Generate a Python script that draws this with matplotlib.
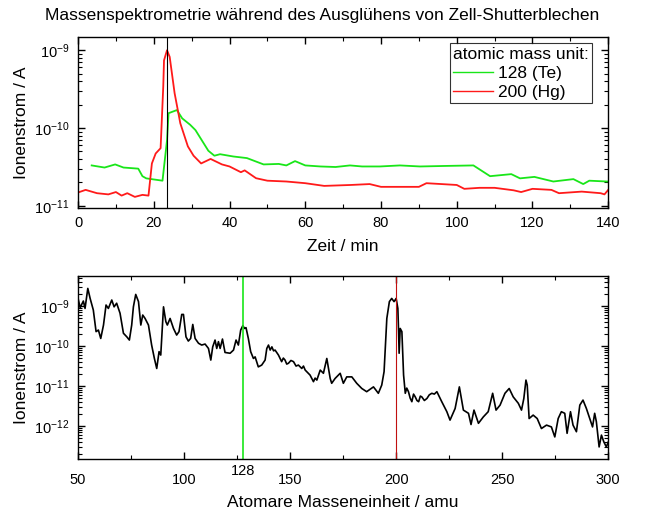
import numpy as np
import matplotlib
matplotlib.use("Agg")
import matplotlib.pyplot as plt
from matplotlib.ticker import LogLocator, MultipleLocator, NullFormatter
import matplotlib.transforms as mtransforms

plt.rcParams['font.family'] = ['Liberation Sans', 'DejaVu Sans']
plt.rcParams['mathtext.fontset'] = 'custom'
plt.rcParams['mathtext.rm'] = 'Liberation Sans'
plt.rcParams['mathtext.it'] = 'Liberation Sans:italic'
plt.rcParams['mathtext.bf'] = 'Liberation Sans:bold'

# Zeitverlauf (min) und Ionenstrom (A)
t_te = [3.6, 7, 9.8, 12, 15.9, 17, 18, 22.3, 23.5, 23.9, 26.1, 27.5, 29.6, 31,
        34.4, 36, 37.5, 41, 44.6, 49, 53, 55, 57.3, 60, 64, 68, 71.8, 75, 79.7, 85, 90.3,
        97, 104.4, 108.8, 114.4, 116.7, 120.5, 125.5, 130.8, 133.4, 135, 139.6, 140]
i_te = [3.3e-11, 3.1e-11, 3.4e-11, 3.1e-11, 3.0e-11, 2.4e-11, 2.25e-11, 2.1e-11,
        7.0e-11, 1.55e-10, 1.7e-10, 1.33e-10, 1.1e-10, 9.4e-11,
        5.1e-11, 4.4e-11, 4.6e-11, 4.3e-11, 4.1e-11, 3.4e-11, 3.45e-11, 3.3e-11,
        3.75e-11, 3.3e-11, 3.2e-11, 3.15e-11, 3.3e-11, 3.2e-11, 3.2e-11, 3.3e-11,
        3.2e-11, 3.25e-11, 3.3e-11, 2.4e-11, 2.55e-11, 2.25e-11, 2.35e-11,
        2.05e-11, 2.2e-11, 1.9e-11, 2.1e-11, 2.05e-11, 2.05e-11]

t_hg = [0, 2, 5, 8, 10, 11.5, 13, 15, 17, 18.6, 19.5, 20.5, 21.8, 22.5, 22.7,
        23.5, 24.2, 25.5, 27, 29, 30.5, 32.5, 35, 38, 40, 43, 44, 47, 50, 55,
        60, 65, 72, 77, 80, 90, 92, 100, 102, 106, 110, 115, 117, 120, 125,
        127, 133, 138, 139, 140]
i_hg = [1.48e-11, 1.6e-11, 1.45e-11, 1.4e-11, 1.5e-11, 1.35e-11, 1.45e-11,
        1.3e-11, 1.38e-11, 1.35e-11, 3.5e-11, 4.7e-11, 5.5e-11, 3.4e-10, 7.4e-10,
        1.0e-9, 8.2e-10, 2.8e-10, 1.15e-10, 5.8e-11, 4.4e-11, 3.5e-11, 4.0e-11,
        3.4e-11, 3.2e-11, 2.7e-11, 2.85e-11, 2.26e-11, 2.1e-11, 2.05e-11,
        1.95e-11, 1.8e-11, 1.85e-11, 1.9e-11, 1.75e-11, 1.75e-11, 1.95e-11,
        1.85e-11, 1.65e-11, 1.7e-11, 1.7e-11, 1.58e-11, 1.5e-11, 1.65e-11,
        1.6e-11, 1.45e-11, 1.52e-11, 1.45e-11, 1.4e-11, 1.6e-11]

# Massenspektrum (amu) und log10 des Ionenstroms
mass = [50, 51, 52.5, 53.3, 54.6, 55.7, 57.2, 58.5, 59.6, 60.7, 62, 63.2, 64.3,
        65.9, 67, 68.2, 69.8, 71.4, 73, 74.2, 75.3, 76.1, 77.2, 78.5, 79.6, 80.5,
        81.6, 83.2, 84.7, 86, 87.1, 88.2, 89, 90.3, 91.4, 92.1, 93.4, 95, 96.5,
        97.6, 98.9, 99.7, 100.9, 102, 103.1, 104.1, 105.2, 106.8, 108.3, 109.9,
        111.5, 112.6, 113.5, 114.6, 115.4, 116.2, 117, 118.1, 119.3, 121.7,
        123.3, 124.5, 125.6, 126.7, 127.7, 128.5, 129.2, 130.3, 131.4, 132.7,
        133.5, 135, 136.6, 138.2, 139, 139.8, 140.6, 141.4, 142.2, 142.9, 144.5,
        146, 146.8, 147.6, 148.4, 149.2, 150.4, 151.6, 152.8, 153.9, 155.5,
        156.3, 157.1, 158.2, 159.4, 161, 161.8, 162.6, 164.2, 165.7,
        167.3, 168.9, 169.6, 171.2, 173.6, 175.1, 176.7, 179.1, 181.4, 183.8,
        186.1, 189.3, 191.6, 193.2, 194.3, 195.6, 196.8, 197.9, 199, 200, 200.8,
        201.1, 201.4, 201.9, 202.7, 203.5, 204.3, 205, 205.8, 206.6, 207.4, 208.2,
        209, 209.8, 210.6, 211.4, 212.1, 213.3, 214.5, 215.6, 216.8, 218, 219.2,
        221.5, 223.9, 225.4, 227.8, 229.8, 231.7,
        234.1, 235.3, 236.7, 238.8, 241.1, 243.4, 245.5, 247.1, 249, 251.3,
        253.3, 255.2, 257.6, 259.1, 260.2, 261.2, 261.8, 262.7, 264.6, 266.5,
        268.5, 270.9, 273.2, 274.8, 276.4, 277.9, 279.5, 280.6, 282.2, 283.4,
        285, 286.6, 288.1, 289.7, 291.3, 292.6, 293.6, 294.4, 295.7, 296.8,
        297.9, 299.1, 300]
log_i = [-8.81, -9.04, -8.875, -9.06, -8.56, -8.81, -9.1, -9.64, -9.6, -9.81,
         -9.475, -8.975, -9.06, -8.85, -9.02, -8.93, -9.18, -9.68, -9.77, -9.85,
         -9.475, -9.02, -8.71, -8.89, -9.475, -9.225, -9.31, -9.475, -9.975,
         -10.31, -10.56, -10.14, -10.225, -9.02, -9.39, -9.475, -9.31, -9.56,
         -9.725, -9.64, -9.21, -9.21, -9.77, -9.875, -9.81, -9.46, -9.81, -9.93,
         -9.975, -9.95, -10.06, -10.35, -10.02, -9.85, -10.06, -9.89, -10.06,
         -9.825, -10.16, -10.18, -10.1, -9.85, -9.975, -9.6, -9.49, -9.56, -9.54,
         -9.81, -10.14, -10.31, -10.27, -10.52, -10.475, -10.35, -10.06, -9.975,
         -10.1, -10.02, -10.12, -10.1, -10.225, -10.39, -10.3, -10.35, -10.45,
         -10.43, -10.36, -10.39, -10.5, -10.475, -10.56, -10.5, -10.6, -10.66,
         -10.725, -10.89, -10.8, -10.85, -10.6, -10.68,
         -10.31, -10.81, -10.93, -10.81, -10.68, -10.93, -10.77, -10.77, -10.93,
         -11.06, -11.14, -11.02, -11.18, -10.975, -10.64, -9.31, -8.89, -8.81,
         -8.89, -8.81, -9.06, -9.56, -10.18, -9.56, -9.64, -10.725, -11.18,
         -11.05, -11.14, -11.3, -11.39, -11.2, -11.27, -11.36, -11.39, -11.25,
         -11.27, -11.36, -11.31, -11.22, -11.18, -11.2, -11.14,
         -11.39, -11.64, -11.85, -11.56,
         -11.02, -11.6, -11.68, -11.96, -11.6, -11.93, -11.77, -11.64, -11.18,
         -11.6, -11.475, -11.18, -11.06, -11.27, -11.43, -11.6, -11.31, -10.85,
         -10.975, -11.81, -11.725, -11.81, -12.06, -11.975, -12.02, -12.27,
         -11.81, -11.64, -11.68, -12.18, -11.64, -11.975, -12.14, -11.475,
         -11.35, -11.56, -11.81, -12.02, -11.68, -11.89, -12.52, -12.225, -12.39,
         -12.52, -12.4]

green = '#19e619'
red = '#ff1a1a'

fig = plt.figure(figsize=(6.45, 5.17), dpi=100)
ax1 = fig.add_axes([0.121, 0.598, 0.822, 0.330])
ax2 = fig.add_axes([0.121, 0.112, 0.822, 0.354])

# --- oben: Zeitverlauf
ax1.plot(t_te, i_te, color=green, lw=1.3, label='128 (Te)')
ax1.plot(t_hg, i_hg, color=red, lw=1.3, label='200 (Hg)')
ax1.axvline(23.5, color='black', lw=0.8)
ax1.set_yscale('log')
ax1.set_xlim(0, 140)
ax1.set_ylim(9.4e-12, 1.47e-9)
ax1.xaxis.set_major_locator(MultipleLocator(20))
ax1.xaxis.set_minor_locator(MultipleLocator(10))
ax1.set_yticks([1e-11, 1e-10, 1e-9])
ax1.set_yticklabels(['$10^{-11}$', '$10^{-10}$', '$10^{-9}$'])
ax1.yaxis.set_minor_locator(LogLocator(base=10, subs=np.arange(2, 10), numticks=20))
ax1.yaxis.set_minor_formatter(NullFormatter())
ax1.set_xlabel('Zeit / min', fontsize=12.5, labelpad=6)
ax1.set_ylabel('Ionenstrom / A', fontsize=12.5)
leg = ax1.legend(title='atomic mass unit:', loc='upper right',
                 bbox_to_anchor=(0.970, 0.965), borderaxespad=0.0,
                 fontsize=12.5, title_fontsize=12.5, frameon=True, fancybox=False,
                 handlelength=2.3, handletextpad=0.3, borderpad=0.2,
                 labelspacing=0.22)
leg.get_frame().set_edgecolor('black')
leg.get_frame().set_linewidth(0.8)
leg._legend_box.align = 'left'
for ln in leg.get_lines():
    ln.set_linewidth(1.0)

# --- unten: Massenspektrum
ax2.plot(mass, 10.0 ** np.array(log_i), color='black', lw=1.2)
ax2.axvline(128, color=green, lw=1.2)
ax2.axvline(200, color='#c01010', lw=0.8)
ax2.set_yscale('log')
ax2.set_xlim(50, 300)
ax2.set_ylim(1.5e-13, 5.6e-9)
ax2.set_xticks([50, 100, 150, 200, 250, 300])
ax2.xaxis.set_minor_locator(MultipleLocator(25))
ax2.set_yticks([1e-12, 1e-11, 1e-10, 1e-9])
ax2.set_yticklabels(['$10^{\u221212}$', '$10^{\u221211}$', '$10^{\u221210}$', '$10^{\u22129}$'])
ax2.yaxis.set_minor_locator(LogLocator(base=10, subs=np.arange(2, 10), numticks=20))
ax2.yaxis.set_minor_formatter(NullFormatter())
trans = mtransforms.blended_transform_factory(ax2.transData, ax2.transAxes)
ax2.text(128, -0.025, '128', transform=trans, ha='center', va='top', fontsize=10.5)
ax2.set_xlabel('Atomare Masseneinheit / amu', fontsize=12.5, labelpad=6)
ax2.set_ylabel('Ionenstrom / A', fontsize=12.5)

for ax in (ax1, ax2):
    ax.tick_params(which='both', direction='in', top=True, right=True,
                   labelsize=10.5, pad=6)
    ax.tick_params(which='major', length=5, width=1.0)
    ax.tick_params(which='minor', length=3, width=0.8)
    for s in ax.spines.values():
        s.set_linewidth(1.0)
ax2.tick_params(axis='x', which='major', pad=10)

fig.suptitle('Massenspektrometrie während des Ausglühens von Zell-Shutterblechen',
             fontsize=12.5, y=0.985)

fig.savefig('out.png', dpi=100)
